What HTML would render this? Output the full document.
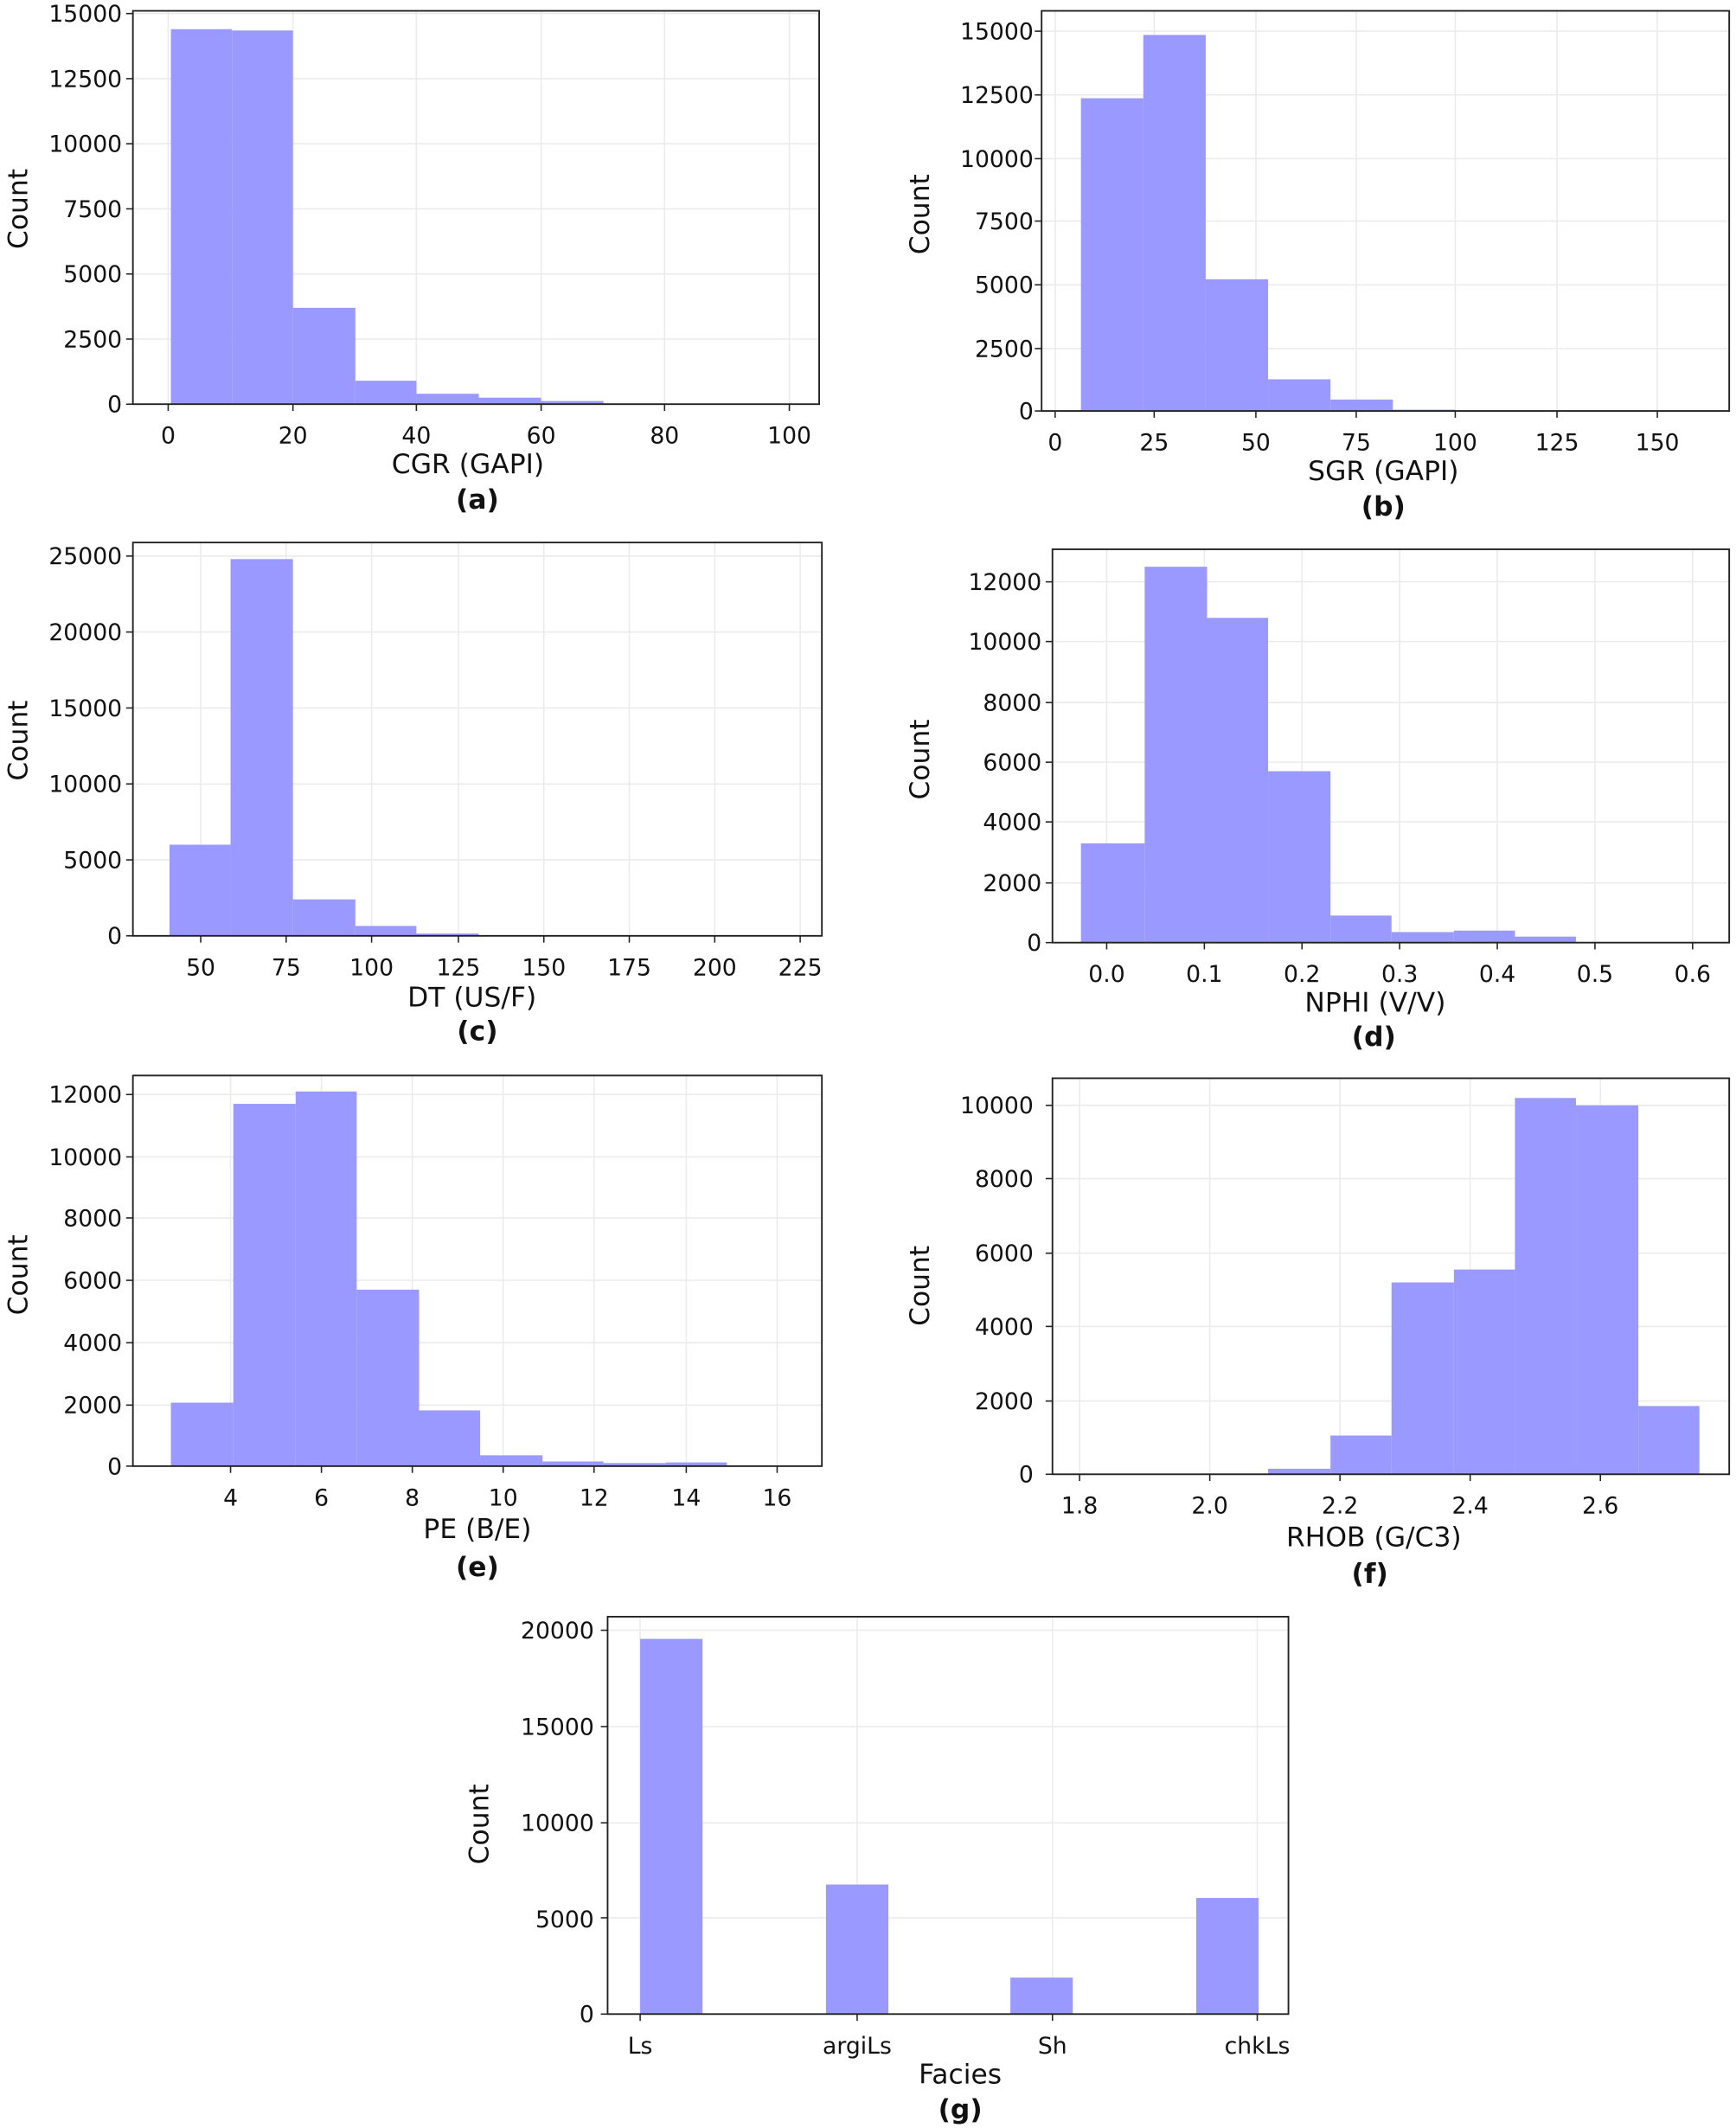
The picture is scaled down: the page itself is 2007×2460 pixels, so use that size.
<!DOCTYPE html>
<html><head><meta charset="utf-8"><style>
html,body{margin:0;padding:0;background:#fff}
svg{display:block}
text{font-family:"DejaVu Sans","Liberation Sans",sans-serif;fill:#111}
.t{font-size:17px}
.l{font-size:20px}
.b{font-size:20px;font-weight:bold}
</style></head><body>
<svg id="s" width="2007" height="2460" viewBox="0 0 1280 1569" preserveAspectRatio="none" xmlns="http://www.w3.org/2000/svg">
<g id="g"></g>
<!-- (a) -->
<g class="t" text-anchor="middle">
<text x="124" y="327">0</text><text x="216" y="327">20</text><text x="307" y="327">40</text><text x="399" y="327">60</text><text x="490" y="327">80</text><text x="582" y="327">100</text>
</g>
<g class="t" text-anchor="end">
<text x="90" y="304">0</text><text x="90" y="256">2500</text><text x="90" y="208">5000</text><text x="90" y="160">7500</text><text x="90" y="112">10000</text><text x="90" y="64">12500</text><text x="90" y="16">15000</text>
</g>
<text class="l" x="345" y="349" text-anchor="middle">CGR (GAPI)</text>
<text class="b" x="352" y="375" text-anchor="middle">(a)</text>
<text class="l" transform="translate(20,154) rotate(-90)" text-anchor="middle">Count</text>
<!-- (b) -->
<g class="t" text-anchor="middle">
<text x="778" y="332">0</text><text x="851" y="332">25</text><text x="926" y="332">50</text><text x="1000" y="332">75</text><text x="1073" y="332">100</text><text x="1148" y="332">125</text><text x="1222" y="332">150</text>
</g>
<g class="t" text-anchor="end">
<text x="762" y="309">0</text><text x="762" y="263">2500</text><text x="762" y="216">5000</text><text x="762" y="169">7500</text><text x="762" y="123">10000</text><text x="762" y="76">12500</text><text x="762" y="29">15000</text>
</g>
<text class="l" x="1020" y="354" text-anchor="middle">SGR (GAPI)</text>
<text class="b" x="1020" y="380" text-anchor="middle">(b)</text>
<text class="l" transform="translate(685,158) rotate(-90)" text-anchor="middle">Count</text>
<!-- (c) -->
<g class="t" text-anchor="middle">
<text x="148" y="719">50</text><text x="211" y="719">75</text><text x="274" y="719">100</text><text x="338" y="719">125</text><text x="401" y="719">150</text><text x="464" y="719">175</text><text x="527" y="719">200</text><text x="590" y="719">225</text>
</g>
<g class="t" text-anchor="end">
<text x="90" y="696">0</text><text x="90" y="640">5000</text><text x="90" y="584">10000</text><text x="90" y="528">15000</text><text x="90" y="472">20000</text><text x="90" y="416">25000</text>
</g>
<text class="l" x="348" y="742" text-anchor="middle">DT (US/F)</text>
<text class="b" x="352" y="767" text-anchor="middle">(c)</text>
<text class="l" transform="translate(20,546) rotate(-90)" text-anchor="middle">Count</text>
<!-- (d) -->
<g class="t" text-anchor="middle">
<text x="816" y="724">0.0</text><text x="888" y="724">0.1</text><text x="960" y="724">0.2</text><text x="1032" y="724">0.3</text><text x="1104" y="724">0.4</text><text x="1176" y="724">0.5</text><text x="1248" y="724">0.6</text>
</g>
<g class="t" text-anchor="end">
<text x="768" y="701">0</text><text x="768" y="657">2000</text><text x="768" y="612">4000</text><text x="768" y="568">6000</text><text x="768" y="524">8000</text><text x="768" y="479">10000</text><text x="768" y="435">12000</text>
</g>
<text class="l" x="1014" y="746" text-anchor="middle">NPHI (V/V)</text>
<text class="b" x="1013" y="771" text-anchor="middle">(d)</text>
<text class="l" transform="translate(685,560) rotate(-90)" text-anchor="middle">Count</text>
<!-- (e) -->
<g class="t" text-anchor="middle">
<text x="170" y="1110">4</text><text x="237" y="1110">6</text><text x="304" y="1110">8</text><text x="371" y="1110">10</text><text x="438" y="1110">12</text><text x="506" y="1110">14</text><text x="573" y="1110">16</text>
</g>
<g class="t" text-anchor="end">
<text x="90" y="1087">0</text><text x="90" y="1042">2000</text><text x="90" y="996">4000</text><text x="90" y="950">6000</text><text x="90" y="904">8000</text><text x="90" y="859">10000</text><text x="90" y="813">12000</text>
</g>
<text class="l" x="352" y="1134" text-anchor="middle">PE (B/E)</text>
<text class="b" x="352" y="1162" text-anchor="middle">(e)</text>
<text class="l" transform="translate(20,940) rotate(-90)" text-anchor="middle">Count</text>
<!-- (f) -->
<g class="t" text-anchor="middle">
<text x="796" y="1116">1.8</text><text x="892" y="1116">2.0</text><text x="988" y="1116">2.2</text><text x="1084" y="1116">2.4</text><text x="1180" y="1116">2.6</text>
</g>
<g class="t" text-anchor="end">
<text x="762" y="1093">0</text><text x="762" y="1039">2000</text><text x="762" y="984">4000</text><text x="762" y="930">6000</text><text x="762" y="875">8000</text><text x="762" y="821">10000</text>
</g>
<text class="l" x="1013" y="1140" text-anchor="middle">RHOB (G/C3)</text>
<text class="b" x="1010" y="1167" text-anchor="middle">(f)</text>
<text class="l" transform="translate(685,948) rotate(-90)" text-anchor="middle">Count</text>
<!-- (g) -->
<g class="t" text-anchor="middle">
<text x="472" y="1514">Ls</text><text x="632" y="1514">argiLs</text><text x="776" y="1514">Sh</text><text x="927" y="1514">chkLs</text>
</g>
<g class="t" text-anchor="end">
<text x="438" y="1491">0</text><text x="438" y="1421">5000</text><text x="438" y="1350">10000</text><text x="438" y="1279">15000</text><text x="438" y="1208">20000</text>
</g>
<text class="l" x="708" y="1536" text-anchor="middle">Facies</text>
<text class="b" x="708" y="1562" text-anchor="middle">(g)</text>
<text class="l" transform="translate(360,1345) rotate(-90)" text-anchor="middle">Count</text>
</svg>
<script>
var NS="http://www.w3.org/2000/svg",G=document.getElementById("g");
function el(n,a){var e=document.createElementNS(NS,n);for(var k in a)e.setAttribute(k,a[k]);G.appendChild(e);return e;}
function panel(p){
 p.gx.forEach(function(x){el("line",{x1:x,x2:x,y1:p.t,y2:p.b,stroke:"#ebebeb","stroke-width":1});});
 p.gy.forEach(function(y){el("line",{x1:p.l,x2:p.r,y1:y,y2:y,stroke:"#ebebeb","stroke-width":1});});
 for(var i=0;i<p.h.length;i++){var h=p.h[i]*p.s;if(h<=0)continue;
  var x0=p.e[i],x1=p.e[i+1];if(p.w){x0=p.e[i];x1=x0+p.w;}
  el("rect",{x:x0,y:p.b-h,width:x1-x0,height:h,fill:"#9999ff"});}
 el("rect",{x:p.l,y:p.t,width:p.r-p.l,height:p.b-p.t,fill:"none",stroke:"#222","stroke-width":1.2});
 p.gx.forEach(function(x){el("line",{x1:x,x2:x,y1:p.b,y2:p.b+5,stroke:"#222"});});
 p.gy.forEach(function(y){el("line",{x1:p.l,x2:p.l-5,y1:y,y2:y,stroke:"#222"});});
}
panel({l:98,r:604,t:8,b:298,s:0.0192,gx:[124,216,307,399,490,582],gy:[298,250,202,154,106,58,10],
 e:[126,171,216,262,307,353,399,445,490,536,582],h:[14400,14350,3700,900,400,250,120,30,10,5]});
panel({l:768,r:1275,t:8,b:303,s:0.01867,gx:[778,851,926,1000,1073,1148,1222],gy:[303,257,210,163,117,70,23],
 e:[797,843,889,935,981,1027,1073,1119,1165,1211,1257],h:[12350,14850,5200,1250,450,50,10,5,0,0]});
panel({l:98,r:606,t:400,b:690,s:0.0112,gx:[148,211,274,338,401,464,527,590],gy:[690,634,578,522,466,410],
 e:[125,170,216,262,307,353,399,445,490,536,582],h:[6000,24800,2400,650,150,30,10,5,0,0]});
panel({l:776,r:1275,t:405,b:695,s:0.02217,gx:[816,888,960,1032,1104,1176,1248],gy:[695,651,606,562,518,473,429],
 e:[797,844,890,935,981,1026,1072,1117,1162,1208,1253],h:[3300,12500,10800,5700,900,350,400,200,0,0]});
panel({l:98,r:606,t:793,b:1081,s:0.02283,gx:[170,237,304,371,438,506,573],gy:[1081,1036,990,944,898,853,807],
 e:[126,172,218,263,309,354,400,445,491,536,582],h:[2050,11700,12100,5700,1800,350,150,100,120,10]});
panel({l:776,r:1275,t:795,b:1087,s:0.0272,gx:[796,892,988,1084,1180],gy:[1087,1033,978,924,869,815],
 e:[844,889,935,981,1026,1072,1117,1162,1208,1253],h:[10,20,150,1050,5200,5550,10200,10000,1850]});
panel({l:448,r:950,t:1192,b:1485,s:0.01415,gx:[472,632,776,927],gy:[1485,1414,1344,1273,1202],
 e:[472,609,745,882],w:46,h:[19550,6750,1900,6050]});
</script>
</body></html>
